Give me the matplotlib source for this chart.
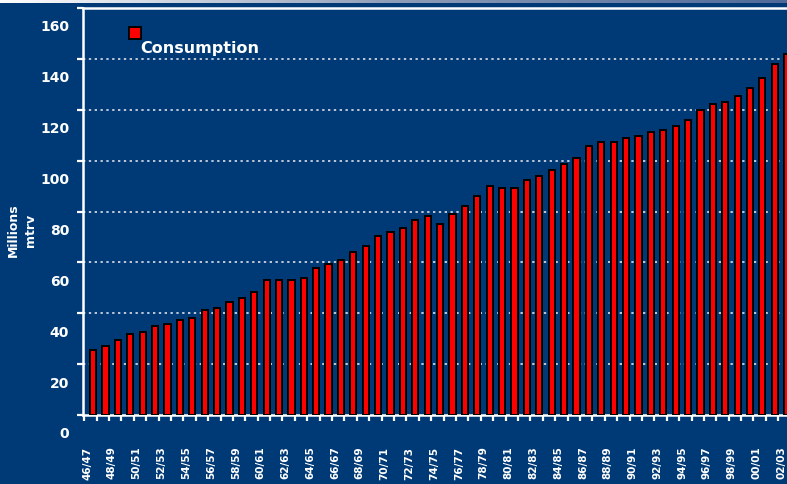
import matplotlib
matplotlib.use("Agg")
import matplotlib.pyplot as plt
import matplotlib.transforms as mtransforms
from matplotlib.lines import Line2D
from matplotlib.colors import LinearSegmentedColormap
import numpy as np

seasons = ["46/47", "47/48", "48/49", "49/50", "50/51", "51/52", "52/53", "53/54",
           "54/55", "55/56", "56/57", "57/58", "58/59", "59/60", "60/61", "61/62",
           "62/63", "63/64", "64/65", "65/66", "66/67", "67/68", "68/69", "69/70",
           "70/71", "71/72", "72/73", "73/74", "74/75", "75/76", "76/77", "77/78",
           "78/79", "79/80", "80/81", "81/82", "82/83", "83/84", "84/85", "85/86",
           "86/87", "87/88", "88/89", "89/90", "90/91", "91/92", "92/93", "93/94",
           "94/95", "95/96", "96/97", "97/98", "98/99", "99/00", "00/01", "01/02",
           "02/03"]
consumption = [25.7, 27.2, 29.6, 32.0, 32.7, 35.1, 35.9, 37.5, 38.2, 41.4,
               42.2, 44.5, 46.1, 48.5, 53.2, 53.2, 53.2, 54.0, 57.9, 59.5,
               61.0, 64.2, 66.6, 70.5, 72.1, 73.6, 76.8, 78.3, 75.2, 79.1,
               82.3, 86.2, 90.1, 89.4, 89.4, 92.5, 94.1, 96.4, 98.8, 101.1,
               105.9, 107.4, 107.4, 109.0, 109.8, 111.4, 112.2, 113.7, 116.1, 120.0,
               122.4, 123.2, 125.5, 128.7, 132.6, 138.1, 142.0]
y_ticks = [0, 20, 40, 60, 80, 100, 120, 140, 160]
grid_levels = [20, 40, 60, 80, 100, 120, 140]
series_name = "Consumption"
y_label = "Millions\nmtrv"

BG = "#003A76"
W, H = 787, 485
fig = plt.figure(figsize=(W / 100, H / 100), dpi=100, facecolor=BG)
ax = fig.add_axes([83 / W, 1 - 416 / H, (W - 83) / W + 0.01, (416 - 9) / H])
ax.set_facecolor(BG)

x = np.arange(len(consumption))
ax.bar(x, consumption, width=0.5, color="#FF0000", edgecolor="black",
       linewidth=1.4, zorder=3)

ax.set_xlim(-0.815, 56.62)
ax.set_ylim(0, 160)

for g in grid_levels:
    ax.axhline(g, color="#BFC8D8", linestyle=(0, (1.2, 1.8)), linewidth=1.4, zorder=1)

ax.spines["right"].set_visible(False)
for s in ["left", "bottom", "top"]:
    ax.spines[s].set_color("white")
    ax.spines[s].set_linewidth(1.8)

# y ticks
ax.set_yticks(y_ticks)
ax.set_yticklabels([str(v) for v in y_ticks])
ax.tick_params(axis="y", colors="white", length=4, width=1.6, direction="out", pad=6,
               labelsize=10)
off_y = mtransforms.ScaledTranslation(0, -0.17, fig.dpi_scale_trans)
for lab in ax.get_yticklabels():
    lab.set_fontweight("bold")
    lab.set_color("white")
    lab.set_transform(lab.get_transform() + off_y)

# x ticks: labels every other season
ax.set_xticks(x[::2])
ax.set_xticklabels(seasons[::2], rotation=90)
ax.tick_params(axis="x", which="major", length=0, pad=22, labelsize=7.5, colors="white")
off_x = mtransforms.ScaledTranslation(-0.06, 0, fig.dpi_scale_trans)
for lab in ax.get_xticklabels():
    lab.set_fontweight("bold")
    lab.set_color("white")
    lab.set_transform(lab.get_transform() + off_x)
ax.set_xticks(np.arange(len(consumption) + 1) - 0.72, minor=True)
ax.tick_params(axis="x", which="minor", length=4, width=1.6, color="white", direction="out")

# y label
fig.text(22 / W, 1 - 230 / H, y_label, rotation=90, color="white", fontsize=9,
         fontweight="bold", ha="center", va="center", linespacing=1.45,
         multialignment="center")

# legend (manual)
fig.add_artist(Line2D([135 / W], [1 - 33.5 / H], marker="s", markersize=8,
                      markerfacecolor="#FF0000", markeredgecolor="black",
                      markeredgewidth=1.4, linestyle="none", transform=fig.transFigure))
fig.text(140 / W, 1 - 48 / H, series_name, color="white", fontsize=11.5,
         fontweight="bold", ha="left", va="center")

# top banner gradient line
bax = fig.add_axes([0, 1 - 4 / H, 1, 4 / H])
bax.axis("off")
grad = np.linspace(0, 1, 256).reshape(1, -1)
cmap = LinearSegmentedColormap.from_list("b", ["#FFFFFF", "#8E9DB8", "#4F6A99"])
bax.imshow(grad, aspect="auto", cmap=cmap, extent=[0, 1, 0, 1])

fig.savefig("out.png", dpi=100, facecolor=BG)
